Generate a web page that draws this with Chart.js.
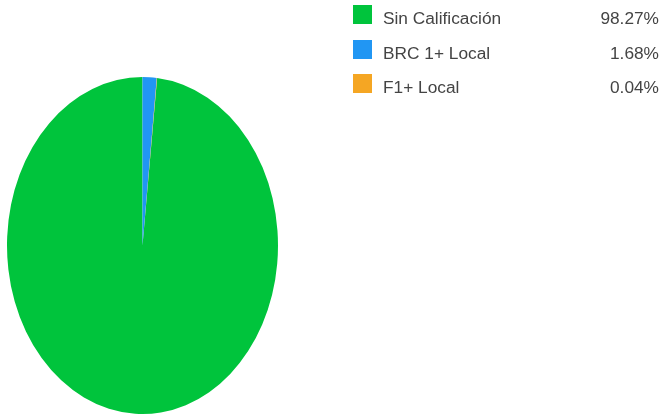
<!DOCTYPE html>
<html>
<head>
<meta charset="utf-8">
<script src="https://cdn.jsdelivr.net/npm/chart.js@4"></script>
<style>
  html, body { margin: 0; padding: 0; background: #fff; }
  #wrap { position: relative; width: 663px; height: 418px; overflow: hidden; }
  #c { position: absolute; left: 0; top: 0; }
  .row { position: absolute; left: 353px; width: 306px; height: 20px; font-family: "Liberation Sans", Arial, sans-serif; font-size: 17.3px; color: #444; }
  .sw { position: absolute; left: 0; top: 0; width: 19px; height: 19px; }
  .lb { position: absolute; left: 30px; top: 3px; line-height: 20px; white-space: nowrap; }
  .pc { position: absolute; right: 0; top: 3px; line-height: 20px; white-space: nowrap; }
</style>
</head>
<body>
<div id="wrap">
  <canvas id="c" width="663" height="418"></canvas>
  <div id="legend"></div>
</div>
<script>
const categories = ["Sin Calificación", "BRC 1+ Local", "F1+ Local"];
const values = [98.27, 1.68, 0.04];
const valueLabels = ["98.27%", "1.68%", "0.04%"];
const colors = ["#00c43c", "#2196f3", "#f5a623"];

// HTML legend
const legend = document.getElementById('legend');
categories.forEach((name, i) => {
  const row = document.createElement('div');
  row.className = 'row';
  row.style.top = (5 + i * 34.5) + 'px';
  row.innerHTML = '<div class="sw" style="background:' + colors[i] + '"></div>' +
    '<div class="lb">' + name + '</div><div class="pc">' + valueLabels[i] + '</div>';
  legend.appendChild(row);
});

const total = values.reduce((a, b) => a + b, 0);
// first slice (largest) ends just left of top; the small slices sit right of top
const rotation = ((values[1] + values[2]) / total) * 360;

const ellipse = {
  id: 'ellipse',
  beforeDatasetsDraw(chart) {
    const ctx = chart.ctx;
    const { top, bottom } = chart.chartArea;
    const cy = (top + bottom) / 2;
    const sy = 168.5 / 135.5;
    ctx.save();
    ctx.translate(0, cy);
    ctx.scale(1, sy);
    ctx.translate(0, -cy);
  },
  afterDatasetsDraw(chart) {
    chart.ctx.restore();
  }
};

new Chart(document.getElementById('c'), {
  type: 'pie',
  data: {
    labels: categories,
    datasets: [{
      data: values,
      backgroundColor: colors,
      borderWidth: 0
    }]
  },
  options: {
    responsive: false,
    animation: false,
    rotation: rotation,
    layout: { padding: { left: 7, right: 385, top: 110, bottom: 37 } },
    plugins: { legend: { display: false }, tooltip: { enabled: false } }
  },
  plugins: [ellipse]
});
</script>
</body>
</html>
